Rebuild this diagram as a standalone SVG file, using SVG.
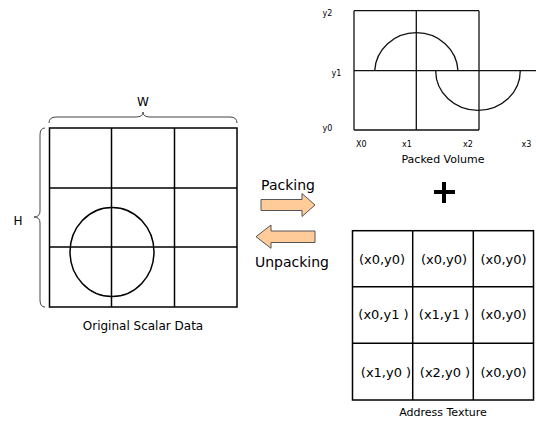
<svg xmlns="http://www.w3.org/2000/svg" width="536" height="423" viewBox="0 0 536 423">
<style>
text{font-family:"DejaVu Sans","Liberation Sans",sans-serif;fill:#000}
.g{fill:none;stroke:#000;stroke-width:1.5}
.p{fill:none;stroke:#111;stroke-width:1.3}
.ax{font-size:8px}
.cap{font-size:11px;text-anchor:middle}
.cell{font-size:13px;text-anchor:middle}
.arr{fill:#FFCC99;stroke:#555;stroke-width:1}
.br{fill:none;stroke:#444;stroke-width:1}
</style>
<rect width="536" height="423" fill="#fff"/>
<g id="original-scalar-data">
<rect class="g" x="49.5" y="128" width="187.5" height="179"/>
<line class="g" x1="111.5" y1="128" x2="111.5" y2="307"/>
<line class="g" x1="174.5" y1="128" x2="174.5" y2="307"/>
<line class="g" x1="49.5" y1="188" x2="237" y2="188"/>
<line class="g" x1="49.5" y1="247" x2="237" y2="247"/>
<ellipse class="g" cx="112" cy="252" rx="42" ry="44.5"/>
<path class="br" d="M49,123 Q49,117 56,117 L136,117 Q143,117 143,112 Q143,117 150,117 L230,117 Q237,117 237,123"/>
<text x="143" y="106" font-size="12" text-anchor="middle">W</text>
<path class="br" d="M45,128 Q40,128 40,135 L40,211 Q40,217 34,217 Q40,217 40,223 L40,300 Q40,307 45,307"/>
<text x="18" y="225" font-size="12" text-anchor="middle">H</text>
<text x="143" y="330" font-size="12" text-anchor="middle">Original Scalar Data</text>
</g>
<g id="packed-volume">
<line class="p" x1="354" y1="10.7" x2="479" y2="10.7"/>
<line class="p" x1="354" y1="10.7" x2="354" y2="130"/>
<line class="p" x1="354" y1="130" x2="479" y2="130"/>
<line class="p" x1="416.3" y1="10.7" x2="416.3" y2="130"/>
<line class="p" x1="479" y1="10.7" x2="479" y2="130"/>
<line class="p" x1="354" y1="70.7" x2="536" y2="70.7"/>
<path class="p" d="M374.7,70.7 A41.7,40 0 0 1 458,70.7"/>
<path class="p" d="M435.7,70.7 A42.3,39.7 0 0 0 520.3,70.7"/>
<text class="ax" x="322.5" y="15.5">y2</text>
<text class="ax" x="331.5" y="76">y1</text>
<text class="ax" x="322.5" y="131">y0</text>
<text class="ax" x="356" y="147">X0</text>
<text class="ax" x="402" y="147">x1</text>
<text class="ax" x="463" y="147">x2</text>
<text class="ax" x="521.5" y="147">x3</text>
<text class="cap" x="443" y="163">Packed Volume</text>
</g>
<g id="plus">
<rect x="442" y="182" width="4" height="21" fill="#000"/>
<rect x="434" y="190" width="21" height="4" fill="#000"/>
</g>
<g id="connectors">
<polygon class="arr" points="261,199.5 302,199.5 302,193.5 315,205 302,216.5 302,210.5 261,210.5"/>
<text x="288" y="190" font-size="14" text-anchor="middle">Packing</text>
<polygon class="arr" points="315,231 271,231 271,225 256,236.7 271,248.3 271,242.5 315,242.5"/>
<text x="292" y="267" font-size="14" text-anchor="middle">Unpacking</text>
</g>
<g id="address-texture">
<rect class="g" x="352.5" y="230.7" width="181" height="169.3"/>
<line class="g" x1="412.7" y1="230.7" x2="412.7" y2="400"/>
<line class="g" x1="473.3" y1="230.7" x2="473.3" y2="400"/>
<line class="g" x1="352.5" y1="286.7" x2="533.5" y2="286.7"/>
<line class="g" x1="352.5" y1="343.3" x2="533.5" y2="343.3"/>
<text class="cell" x="382" y="264">(x0,y0)</text>
<text class="cell" x="444" y="264">(x0,y0)</text>
<text class="cell" x="503.5" y="264">(x0,y0)</text>
<text class="cell" x="383.5" y="319">(x0,y1 )</text>
<text class="cell" x="444" y="319">(x1,y1 )</text>
<text class="cell" x="503.5" y="319">(x0,y0)</text>
<text class="cell" x="386" y="377">(x1,y0 )</text>
<text class="cell" x="445" y="377">(x2,y0 )</text>
<text class="cell" x="503.5" y="377">(x0,y0)</text>
<text class="cap" x="443" y="416">Address Texture</text>
</g>
</svg>
